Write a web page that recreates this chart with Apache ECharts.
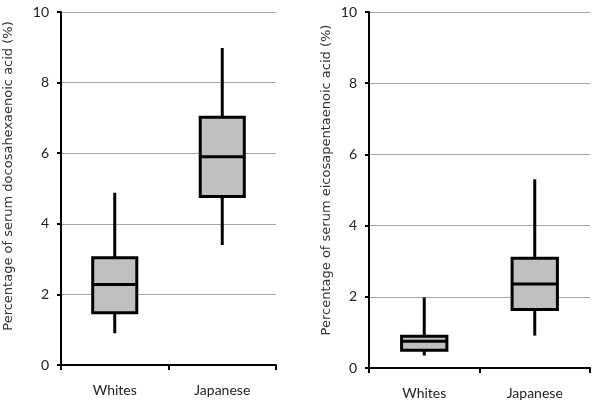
<!DOCTYPE html>
<html><head><meta charset="utf-8">
<script src="https://cdn.jsdelivr.net/npm/echarts@6/dist/echarts.min.js"></script>
<style>html,body{margin:0;padding:0;background:#fff}#c{width:600px;height:402px}</style>
</head><body><div id="c"></div>
<script>
const categories = ['Whites', 'Japanese'];
// [min, Q1, median, Q3, max]
const dhaValues = [[0.9, 1.48, 2.28, 3.04, 4.88], [3.4, 4.77, 5.9, 7.02, 8.98]];
const epaValues = [[0.35, 0.5, 0.75, 0.89, 1.98], [0.91, 1.64, 2.36, 3.08, 5.3]];
const yTicks = [0, 2, 4, 6, 8, 10];
const dhaTitle = 'Percentage of serum docosahexaenoic acid (%)';
const epaTitle = 'Percentage of serum eicosapentaenoic acid (%)';

const font = 'Lato, "Open Sans", sans-serif';
function renderBox(params, api) {
  const x = api.value(0);
  const pMin = api.coord([x, api.value(1)]);
  const pQ1 = api.coord([x, api.value(2)]);
  const pMed = api.coord([x, api.value(3)]);
  const pQ3 = api.coord([x, api.value(4)]);
  const pMax = api.coord([x, api.value(5)]);
  const bw = api.size([1, 0])[0] * 0.41;
  const cx = pMed[0];
  const ls = {stroke: '#000', lineWidth: 3};
  return {type: 'group', children: [
    {type: 'line', shape: {x1: cx, y1: pMax[1], x2: cx, y2: pQ3[1]}, style: ls},
    {type: 'line', shape: {x1: cx, y1: pQ1[1], x2: cx, y2: pMin[1]}, style: ls},
    {type: 'rect', shape: {x: cx - bw / 2, y: pQ3[1], width: bw, height: pQ1[1] - pQ3[1]},
      style: {fill: '#c0c0c0', stroke: '#000', lineWidth: 3}},
    {type: 'line', shape: {x1: cx - bw / 2, y1: pMed[1], x2: cx + bw / 2, y2: pMed[1]}, style: ls}
  ]};
}
function toData(vals) { return vals.map((v, i) => [i].concat(v)); }

const yAxisCommon = {
  type: 'value', min: yTicks[0], max: yTicks[yTicks.length - 1], interval: 2,
  axisLine: {show: true, lineStyle: {color: '#000', width: 2}},
  axisTick: {show: true, length: 4, lineStyle: {color: '#000', width: 2}},
  axisLabel: {color: '#222', fontSize: 14, fontFamily: font, margin: 12},
  splitLine: {lineStyle: {color: '#a6a6a6', width: 1}}
};
const xAxisCommon = {
  type: 'category', data: categories, boundaryGap: true,
  axisLine: {lineStyle: {color: '#000', width: 2}},
  axisTick: {show: true, length: 5, alignWithLabel: false, lineStyle: {color: '#000', width: 2}},
  axisLabel: {color: '#222', fontSize: 14, fontFamily: font, margin: 18}
};

const chart = echarts.init(document.getElementById('c'), null, {renderer: 'canvas'});
chart.setOption({
  animation: false,
  grid: [
    {left: 61, top: 12, width: 215, height: 353},
    {left: 369, top: 12, width: 221, height: 356}
  ],
  xAxis: [Object.assign({gridIndex: 0}, xAxisCommon), Object.assign({gridIndex: 1}, xAxisCommon)],
  yAxis: [Object.assign({gridIndex: 0}, yAxisCommon), Object.assign({gridIndex: 1}, yAxisCommon)],
  graphic: [
    {type: 'text', rotation: Math.PI / 2, x: 9, y: 176,
      style: {text: dhaTitle, font: '13px "DejaVu Sans", sans-serif', fill: '#333', align: 'center', verticalAlign: 'middle'}},
    {type: 'text', rotation: Math.PI / 2, x: 327, y: 180,
      style: {text: epaTitle, font: '13px "DejaVu Sans", sans-serif', fill: '#333', align: 'center', verticalAlign: 'middle'}}
  ],
  series: [
    {type: 'custom', xAxisIndex: 0, yAxisIndex: 0, renderItem: renderBox, data: toData(dhaValues),
      encode: {x: 0, y: [1, 2, 3, 4, 5]}},
    {type: 'custom', xAxisIndex: 1, yAxisIndex: 1, renderItem: renderBox, data: toData(epaValues),
      encode: {x: 0, y: [1, 2, 3, 4, 5]}}
  ]
});
</script></body></html>
